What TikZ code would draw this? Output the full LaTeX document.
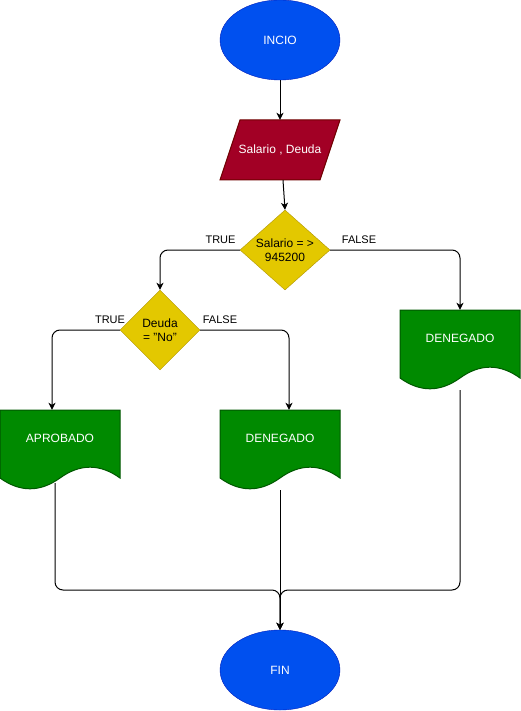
\documentclass[tikz,border=0pt]{standalone}
\usepackage{fontspec}
\setmainfont{Liberation Sans}
\usetikzlibrary{shapes.geometric,arrows.meta}
\definecolor{blueF}{HTML}{0050EF}
\definecolor{blueS}{HTML}{001DBC}
\definecolor{redF}{HTML}{A20025}
\definecolor{redS}{HTML}{6F0000}
\definecolor{yelF}{HTML}{E3C800}
\definecolor{yelS}{HTML}{B09500}
\definecolor{grnF}{HTML}{008A00}
\definecolor{grnS}{HTML}{005700}
\tikzset{
  term/.style={ellipse, fill=blueF, draw=blueS, minimum width=120pt, minimum height=80pt, inner sep=0pt, text=white, font=\fontsize{12}{14}\selectfont},
  dia/.style={diamond, fill=yelF, draw=yelS, inner sep=0pt},
  diatext/.style={align=center, font=\fontsize{12}{14}\selectfont, text=black},
  doctext/.style={rectangle, draw=none, minimum width=120pt, minimum height=80pt, inner sep=0pt, text=white, font=\fontsize{12}{14}\selectfont},
  lbl/.style={font=\fontsize{11}{13}\selectfont, text=black, inner sep=0pt},
  conn/.style={line width=1pt, draw=black, rounded corners=8pt},
  arr/.style={conn, -{Stealth[length=7pt,width=7pt,inset=2pt]}},
  pics/docsh/.style={code={
    \path[fill=grnF, draw=grnS, line width=1pt] (0,0) -- (120,0) -- (120,68)
      .. controls (100,53.6) and (80,53.6) .. (60,68)
      .. controls (40,82.4) and (20,82.4) .. (0,68) -- cycle;}}
}
\begin{document}
\begin{tikzpicture}[x=1pt,y=-1pt]
\useasboundingbox (0,0) rectangle (521,711);
% start
\node[term] (inicio) at (280,40) {INCIO};
% parallelogram
\path[fill=redF, draw=redS, line width=1pt] (240,120) -- (340,120) -- (320,180) -- (220,180) -- cycle;
\node[doctext, minimum width=100pt, minimum height=60pt] (par) at (280,150) {Salario , Deuda};
% decisions
\node[dia, minimum width=90pt, minimum height=80pt] (d1) at (285,250) {};
\node[diatext] (d1t) at (d1.center) {Salario = >\\945200};
\node[dia, minimum width=80pt, minimum height=80pt] (d2) at (160,330) {};
\node[diatext] (d2t) at (d2.center) {Deuda\\= "No"};
% documents
\pic at (0,410) {docsh};
\node[doctext] (doc1) at (60,450) {};
\node[doctext] (doc1t) at (60,438) {APROBADO};
\pic at (220,410) {docsh};
\node[doctext] (doc2) at (280,450) {};
\node[doctext] (doc2t) at (280,438) {DENEGADO};
\pic at (400,310) {docsh};
\node[doctext] (doc3) at (460,350) {};
\node[doctext] (doc3t) at (460,338) {DENEGADO};
% end
\node[term] (fin) at (280,670) {FIN};
% labels
\node[lbl] (t1) at (220.5,240) {TRUE};
\node[lbl] (f1) at (359,240) {FALSE};
\node[lbl] (t2) at (110,320) {TRUE};
\node[lbl] (f2) at (220,320) {FALSE};
% connectors
\draw[arr] (inicio.south) -- (par.north);
\draw[arr] ([xshift=3pt]par.south) -- (d1.north);
\draw[arr] (d1.west) -| (d2.north);
\draw[arr] (d1.east) -| (doc3.north);
\draw[arr] (d2.west) -| ([xshift=-8pt]doc1.north);
\draw[arr] (d2.east) -| ([xshift=9pt]doc2.north);
\coordinate (merge) at (280,590);
\draw[arr] ([xshift=-5pt,yshift=7pt]doc1.south) |- (merge) -- (fin.north);
\draw[arr] (doc3.south) |- (merge) -- (fin.north);
\draw[arr] (doc2.south) -- (fin.north);
\end{tikzpicture}
\end{document}
